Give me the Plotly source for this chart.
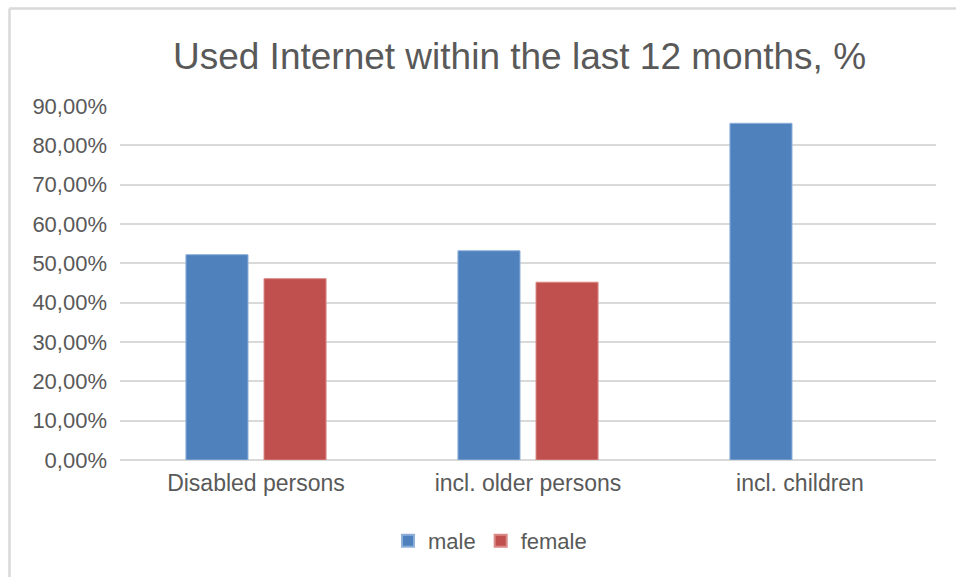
import plotly.graph_objects as go

categories = ["Disabled persons", "incl. older persons", "incl. children"]
male = [0.522, 0.532, 0.856]
female = [0.461, 0.452, None]
y_ticks = [0.0, 0.1, 0.2, 0.3, 0.4, 0.5, 0.6, 0.7, 0.8, 0.9]

W, H = 956, 577
L, R, T, B = 120, 936, 106, 460  # plot area in pixels

def px_x(p):
    return (p - L) / (R - L)

def px_y(p):
    return (B - p) / (B - T)

font_family = "Liberation Sans, Arial, Helvetica, sans-serif"
txt = "#595959"

fig = go.Figure()
fig.add_trace(go.Bar(name="male", x=categories, y=male,
                     marker=dict(color="#4F81BD", line=dict(color="#8DB0DA", width=1))))
fig.add_trace(go.Bar(name="female", x=categories, y=female,
                     marker=dict(color="#C0504D", line=dict(color="#D98A88", width=1))))

fig.update_layout(
    width=W, height=H,
    margin=dict(l=L, r=W - R, t=T, b=H - B),
    paper_bgcolor="white", plot_bgcolor="white",
    separators=",.",
    barmode="group", bargap=0.426, bargroupgap=0.205,
    font=dict(family=font_family, color=txt, size=22),
    title=dict(text="Used Internet within the last 12 months, %",
               x=519.5 / W, xref="container", xanchor="center",
               y=1 - 56 / H, yref="container", yanchor="middle",
               font=dict(size=37, color=txt, family=font_family)),
    legend=dict(orientation="h", x=490 / W, xref="container", xanchor="center",
                y=1 - 541 / H, yref="container", yanchor="middle",
                font=dict(size=22, color=txt), itemwidth=30, traceorder="normal",
                itemsizing="constant"),
    xaxis=dict(showgrid=False, showline=False, ticks="", ticklabelstandoff=7,
               tickfont=dict(size=23, color=txt)),
    yaxis=dict(range=[0, 0.9], tickvals=y_ticks, tickformat=".2%",
               showgrid=True, gridcolor="#d9d9d9", gridwidth=1.5,
               zeroline=True, zerolinecolor="#d9d9d9", zerolinewidth=1.5,
               showline=False, ticks="", ticklabelstandoff=12,
               tickfont=dict(size=22, color=txt)),
    shapes=[
        dict(type="line", xref="paper", yref="paper",
             x0=px_x(9.5), x1=px_x(W + 5), y0=px_y(8.5), y1=px_y(8.5),
             line=dict(color="#d9d9d9", width=2.5)),
        dict(type="line", xref="paper", yref="paper",
             x0=px_x(9.5), x1=px_x(9.5), y0=px_y(8.5), y1=px_y(H + 5),
             line=dict(color="#d9d9d9", width=2.5)),
    ],
)

fig.write_html("out.html")
